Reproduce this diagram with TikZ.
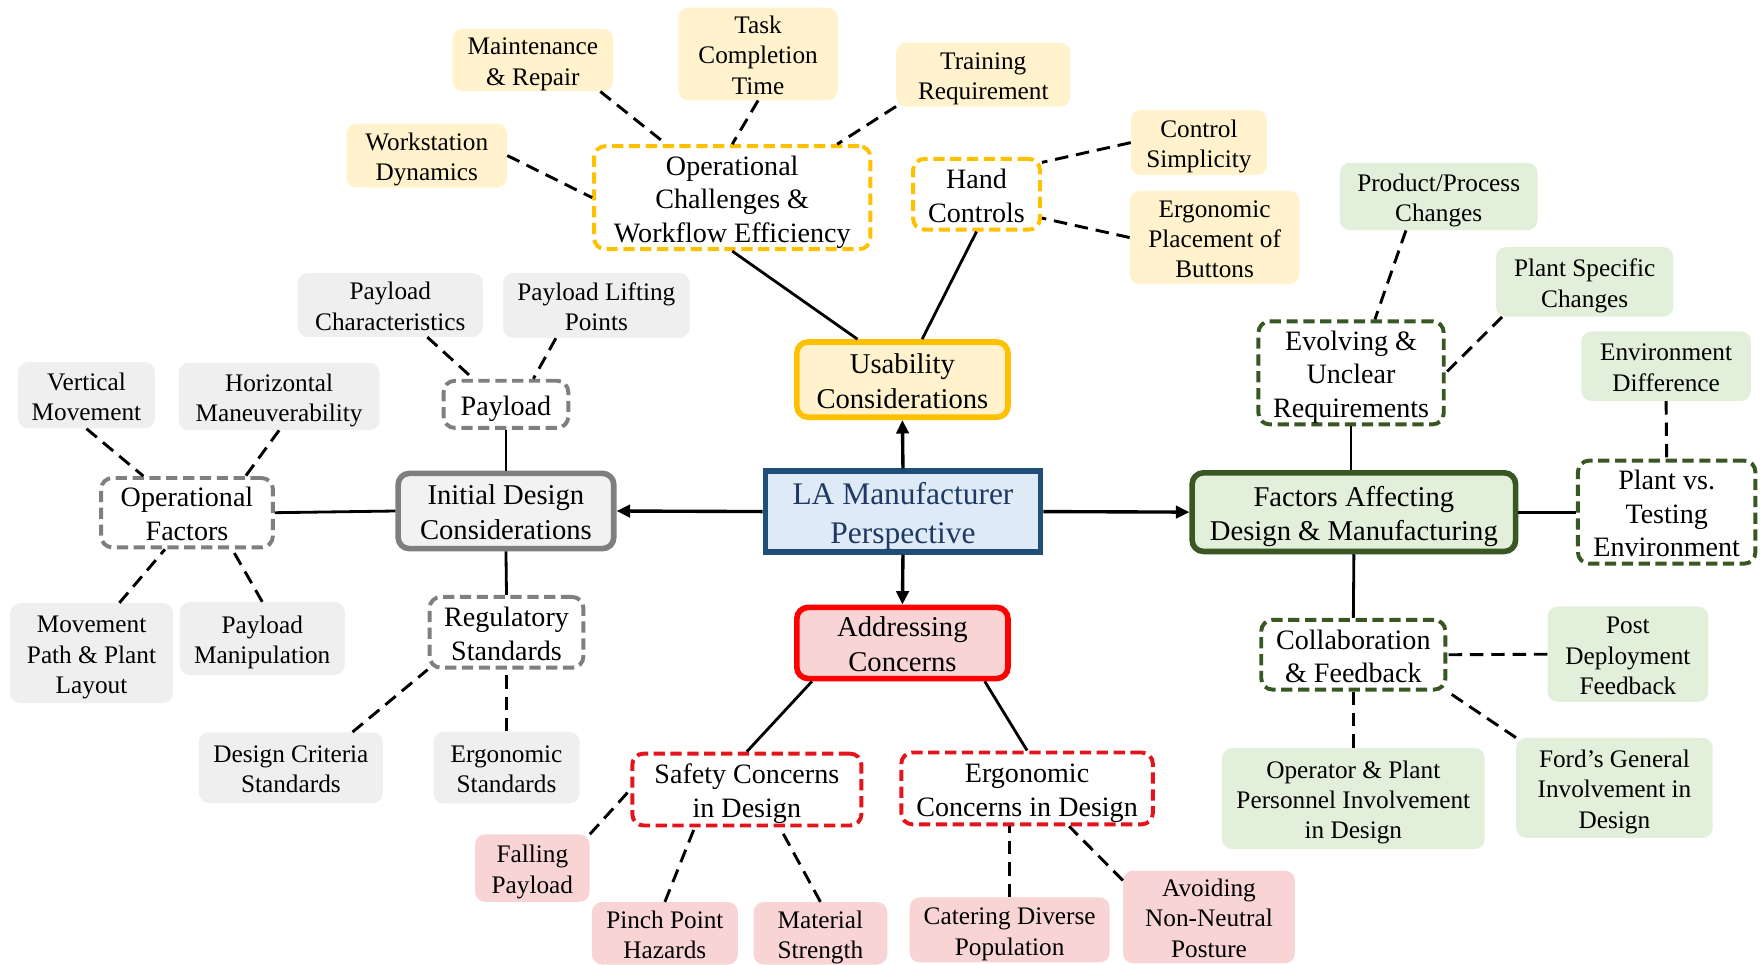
\documentclass[tikz,border=0pt]{standalone}
\usepackage{fontspec}
\setmainfont{Liberation Serif}
\usetikzlibrary{arrows.meta}
\definecolor{yfill}{HTML}{FFF2CC}
\definecolor{ydraw}{HTML}{FFC000}
\definecolor{bfill}{HTML}{DEEBF7}
\definecolor{bdraw}{HTML}{1F4E79}
\definecolor{btext}{HTML}{1F3864}
\definecolor{rdraw}{HTML}{FF0000}
\definecolor{rdash}{HTML}{E3141C}
\definecolor{rfill}{HTML}{F8D5D4}
\definecolor{gdraw}{HTML}{7F7F7F}
\definecolor{gfill}{HTML}{F2F2F2}
\definecolor{gleaf}{HTML}{EFEFEF}
\definecolor{grdraw}{HTML}{385723}
\definecolor{grfill}{HTML}{E2EFDA}
% invisible strut that fixes the height of a node's first line
\newcommand\tp{\rule{0pt}{1.03em}}
\tikzset{
  bottomstrut/.style={execute at end node={\rule[-#1]{0pt}{0pt}}},
  leaf/.style={rectangle, rounded corners=9pt, inner sep=0pt, align=center,
    font=\fontsize{22.5}{27}\selectfont, bottomstrut=5.4pt},
  yleaf/.style={leaf, fill=yfill},
  rleaf/.style={leaf, fill=rfill},
  gleafbox/.style={leaf, fill=gleaf},
  grleaf/.style={leaf, fill=grfill},
  mid/.style={rectangle, rounded corners=10pt, draw, line width=3.5pt,
    dash pattern=on 10pt off 5pt, inner sep=0pt, align=center, fill=white,
    font=\fontsize{25}{30}\selectfont, bottomstrut=6pt},
  ymid/.style={mid, draw=ydraw},
  rmid/.style={mid, draw=rdash},
  gmid/.style={mid, draw=gdraw},
  grmid/.style={mid, draw=grdraw},
  mainbox/.style={rectangle, rounded corners=10pt, draw, line width=5pt,
    inner sep=0pt, align=center, font=\fontsize{25.5}{31}\selectfont},
  ymain/.style={mainbox, draw=ydraw, fill=yfill, bottomstrut=6.1pt},
  rmain/.style={mainbox, draw=rdraw, fill=rfill, bottomstrut=6.1pt},
  gmain/.style={mainbox, draw=gdraw, fill=gfill, bottomstrut=6.1pt},
  grmain/.style={mainbox, draw=grdraw, fill=grfill, bottomstrut=6.1pt},
  lamain/.style={mainbox, rounded corners=0pt, draw=bdraw, fill=bfill, text=btext,
    font=\fontsize{28}{34}\selectfont, bottomstrut=6.7pt},
  con/.style={line width=2.6pt, dash pattern=on 12pt off 7pt},
  sol/.style={line width=2.5pt},
  arr/.style={line width=3pt, -{Triangle[length=12pt,width=11pt]}},
}
\begin{document}
\begin{tikzpicture}[x=1pt,y=-1pt]
\useasboundingbox (0,0) rectangle (1568,859);

% ---------- central ----------
\node[lamain, minimum width=245pt, minimum height=72pt] (la) at (804,455.5) {\tp LA Manufacturer\\Perspective};

% ---------- yellow ----------
\node[ymain, minimum width=188pt, minimum height=67pt] (us) at (803.5,338) {\tp Usability\\Considerations};
\node[ymid, minimum width=246pt, minimum height=89pt] (oc) at (652,176) {\tp Operational\\Challenges \&\\Workflow Efficiency};
\node[ymid, minimum width=113pt, minimum height=63pt] (hc) at (869.5,173) {\tp Hand\\Controls};
\node[yleaf, minimum width=143pt, minimum height=53pt] (mr) at (474.5,53.5) {\tp Maintenance\\\& Repair};
\node[yleaf, minimum width=142pt, minimum height=79pt] (tc) at (675,48) {\tp Task\\Completion\\Time};
\node[yleaf, minimum width=155pt, minimum height=57pt] (tr) at (875.5,66.5) {\tp Training\\Requirement};
\node[yleaf, minimum width=143pt, minimum height=57pt] (wd) at (380,138.5) {\tp Workstation\\Dynamics};
\node[yleaf, minimum width=121pt, minimum height=58pt] (cs) at (1067.5,127) {\tp Control\\Simplicity};
\node[yleaf, minimum width=151pt, minimum height=83pt] (ep) at (1081.5,211.5) {\tp Ergonomic\\Placement of\\Buttons};

% ---------- red ----------
\node[rmain, minimum width=188pt, minimum height=62pt] (ad) at (803.5,572.5) {\tp Addressing\\Concerns};
\node[rmid, minimum width=204pt, minimum height=64pt] (sc) at (665,703) {\tp Safety Concerns\\in Design};
\node[rmid, minimum width=224pt, minimum height=64pt] (ec) at (914.5,702) {\tp Ergonomic\\Concerns in Design};
\node[rleaf, minimum width=102pt, minimum height=60pt] (fp) at (474,773) {\tp Falling\\Payload};
\node[rleaf, minimum width=130pt, minimum height=54pt] (pp) at (592,831) {\tp Pinch Point\\Hazards};
\node[rleaf, minimum width=119pt, minimum height=54pt] (ms) at (730.5,831) {\tp Material\\Strength};
\node[rleaf, minimum width=178pt, minimum height=58pt] (cd) at (899,828) {\tp Catering Diverse\\Population};
\node[rleaf, minimum width=153pt, minimum height=81pt] (an) at (1076.5,816.5) {\tp Avoiding\\Non-Neutral\\Posture};

% ---------- gray ----------
\node[gmain, minimum width=192pt, minimum height=67pt] (id) at (450.5,455) {\tp Initial Design\\Considerations};
\node[gmid, minimum width=111pt, minimum height=42pt] (pl) at (450.5,360) {\tp Payload};
\node[gmid, minimum width=137pt, minimum height=63pt] (rs) at (451,563) {\tp Regulatory\\Standards};
\node[gmid, minimum width=153pt, minimum height=58pt] (of) at (166.5,456.5) {\tp Operational\\Factors};
\node[gleafbox, minimum width=165pt, minimum height=57pt] (pc) at (347.5,271.5) {\tp Payload\\Characteristics};
\node[gleafbox, minimum width=166pt, minimum height=58pt] (lp) at (531,272) {\tp Payload Lifting\\Points};
\node[gleafbox, minimum width=122pt, minimum height=59pt] (vm) at (77,352) {\tp Vertical\\Movement};
\node[gleafbox, minimum width=179pt, minimum height=60pt] (hm) at (248.5,353) {\tp Horizontal\\Maneuverability};
\node[gleafbox, minimum width=145pt, minimum height=89pt] (mp) at (81.5,581.5) {\tp Movement\\Path \& Plant\\Layout};
\node[gleafbox, minimum width=147pt, minimum height=65pt] (pm) at (233.5,568.5) {\tp Payload\\Manipulation};
\node[gleafbox, minimum width=164pt, minimum height=63pt] (dc) at (259,683.5) {\tp Design Criteria\\Standards};
\node[gleafbox, minimum width=130pt, minimum height=64pt] (es) at (451,683.5) {\tp Ergonomic\\Standards};

% ---------- green ----------
\node[grmain, minimum width=288pt, minimum height=70pt] (fa) at (1205.5,456) {\tp Factors Affecting\\Design \& Manufacturing};
\node[grmid, minimum width=165pt, minimum height=88pt] (ev) at (1203,332) {\tp Evolving \&\\Unclear\\Requirements};
\node[grmid, minimum width=158pt, minimum height=90pt] (pt) at (1484,456) {\tp Plant vs.\\Testing\\Environment};
\node[grmid, minimum width=164pt, minimum height=62pt] (cf) at (1205,583) {\tp Collaboration\\\& Feedback};
\node[grleaf, minimum width=176pt, minimum height=60pt] (ppc) at (1281,175) {\tp Product/Process\\Changes};
\node[grleaf, minimum width=158pt, minimum height=62pt] (psc) at (1411,251) {\tp Plant Specific\\Changes};
\node[grleaf, minimum width=151pt, minimum height=62pt] (ed) at (1483.5,326) {\tp Environment\\Difference};
\node[grleaf, minimum width=143pt, minimum height=85pt] (pd) at (1449.5,582.5) {\tp Post\\Deployment\\Feedback};
\node[grleaf, minimum width=234pt, minimum height=90pt] (op) at (1205,711) {\tp Operator \& Plant\\Personnel Involvement\\in Design};
\node[grleaf, minimum width=175pt, minimum height=89pt] (fg) at (1437.5,701.5) {\tp Ford’s General\\Involvement in\\Design};

% ---------- arrows from centre ----------
\draw[arr] (la.north) -- (us.south);
\draw[arr] (la.south) -- (ad.north);
\draw[arr] (la.west) -- (id.east);
\draw[arr] (la.east) -- (fa.west);

% ---------- yellow connectors ----------
\draw[sol] (oc.south) -- (us.138);
\draw[sol] (hc.south) -- (us.64);
\draw[con] (mr.-25) -- (oc.141);
\draw[con] (tc.south) -- (oc.north);
\draw[con] (tr.200) -- (oc.27);
\draw[con] (wd.east) -- (oc.west);
\draw[con] (cs.west) -- (hc.26);
\draw[con] (ep.west) -- (hc.-20);

% ---------- red connectors ----------
\draw[sol] (ad.203) -- (sc.north);
\draw[sol] (ad.-25) -- (ec.north);
\draw[con] (fp.north east) -- (sc.west);
\draw[con] (pp.north) -- (sc.216);
\draw[con] (ms.north) -- (sc.-49);
\draw[con] (cd.north) -- (cd.north |- ec.south);
\draw[con] (an.157) -- (ec.-42);

% ---------- gray connectors ----------
\draw[sol] (pl.south) -- (id.north);
\draw[sol] (rs.north) -- (id.south);
\draw[sol] (of.east) -- (id.west);
\draw[con] (pc.-41) -- (pl.142);
\draw[con] (lp.219) -- (pl.43);
\draw[con] (vm.south) -- (of.140);
\draw[con] (hm.south) -- (of.32);
\draw[con] (mp.61) -- (of.-121);
\draw[con] (pm.north) -- (of.-39);
\draw[con] (dc.30) -- (rs.south west);
\draw[con] (es.north) -- (rs.south);

% ---------- green connectors ----------
\draw[sol] (ev.south) -- (ev.south |- fa.north);
\draw[sol] (fa.east) -- (pt.west);
\draw[sol] (fa.south) -- (cf.north);
\draw[con] (ppc.-134) -- (ev.66);
\draw[con] (psc.203) -- (ev.east);
\draw[con] (ed.south) -- (pt.north);
\draw[con] (pd.west) -- (cf.east);
\draw[con] (op.north) -- (cf.south);
\draw[con] (fg.north west) -- (cf.south east);
\end{tikzpicture}
\end{document}
